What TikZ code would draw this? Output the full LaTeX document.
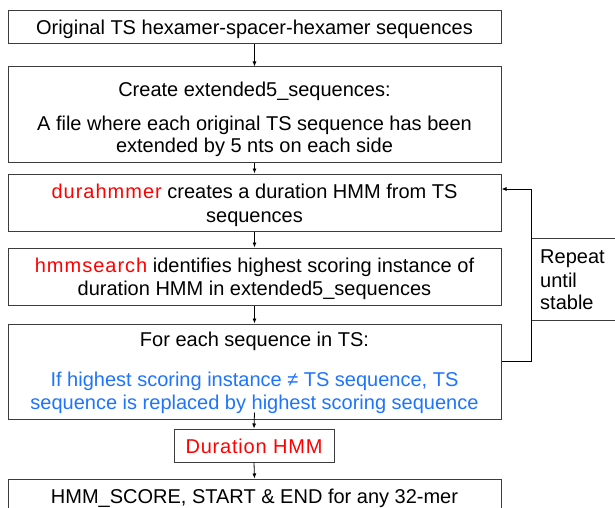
\documentclass[tikz,border=0pt]{standalone}
\usepackage{fontspec}
\setmainfont{Liberation Sans}
\usetikzlibrary{arrows.meta}
\definecolor{boxline}{RGB}{60,60,60}
\definecolor{myred}{RGB}{255,0,0}
\definecolor{myblue}{RGB}{30,115,255}
\newcommand{\redword}[1]{{\color{myred}\addfontfeature{LetterSpace=5}#1}}
\tikzset{
  box/.style={draw=boxline, line width=1pt, inner sep=0pt, minimum width=493pt},
  txt/.style={anchor=base, inner sep=0pt, font=\fontsize{20}{23}\selectfont},
  arr/.style={draw=black, line width=0.8pt, -{Latex[length=5pt,width=4pt]}}
}
\begin{document}
\begin{tikzpicture}[x=1pt,y=-1pt]
\useasboundingbox (0,0) rectangle (615,508);
\clip (0,0) rectangle (615,508);
% boxes
\node[box, minimum height=33pt] (b1) at (254.5,27.5) {};
\node[box, minimum height=95pt] (b2) at (254.5,114.5) {};
\node[box, minimum height=57pt] (b3) at (254.5,202.5) {};
\node[box, minimum height=57pt] (b4) at (254.5,276.5) {};
\node[box, minimum height=95pt] (b5) at (254.5,371.5) {};
\node[box, minimum width=160pt, minimum height=33pt] (dur) at (254,445.5) {};
\node[box, minimum height=33pt] (b7) at (254.5,495.5) {};
\node[box, minimum width=109pt, minimum height=82pt] (rep) at (585.5,279) {};
% texts
\node[txt] (t1) at (254.5,35) {Original TS hexamer-spacer-hexamer sequences};
\node[txt] (t2a) at (254.5,97) {Create extended5\_sequences:};
\node[txt] (t2b) at (254.5,131) {A file where each original TS sequence has been};
\node[txt] (t2c) at (254.5,152) {extended by 5 nts on each side};
\node[txt] (t3a) at (254.5,198) {\redword{durahmmer} creates a duration HMM from TS};
\node[txt] (t3b) at (254.5,222) {sequences};
\node[txt] (t4a) at (254.5,272) {\redword{hmmsearch} identifies highest scoring instance of};
\node[txt] (t4b) at (254.5,295) {duration HMM in extended5\_sequences};
\node[txt] (t5a) at (254.5,346) {For each sequence in TS:};
\node[txt, text=myblue] (t5b) at (254.5,386) {If highest scoring instance \char"2260{} TS sequence, TS};
\node[txt, text=myblue] (t5c) at (254.5,409) {sequence is replaced by highest scoring sequence};
\node[txt, font=\fontsize{20}{23}\selectfont\addfontfeature{LetterSpace=4}, text=myred] (td) at (254,453) {Duration HMM};
\node[txt] (t7) at (254.5,503) {HMM\_SCORE, START \& END for any 32-mer};
\node[txt, anchor=base west] (r1) at (540,263) {Repeat};
\node[txt, anchor=base west] (r2) at (540,287) {until};
\node[txt, anchor=base west] (r3) at (540,309) {stable};
% connectors
\draw[arr] (b1.south) -- (b2.north);
\draw[arr] (b2.south) -- (b3.north);
\draw[arr] (b3.south) -- (b4.north);
\draw[arr] (b4.south) -- (b5.north);
\draw[arr] ([yshift=7pt]b5.south) -- (dur.north);
\draw[arr] (dur.south) -- (b7.north);
\coordinate (fb) at (531,189);
\draw[arr] ([yshift=10.5pt]b5.east) -| (fb) -- ([yshift=13.5pt]b3.east);
\end{tikzpicture}
\end{document}
